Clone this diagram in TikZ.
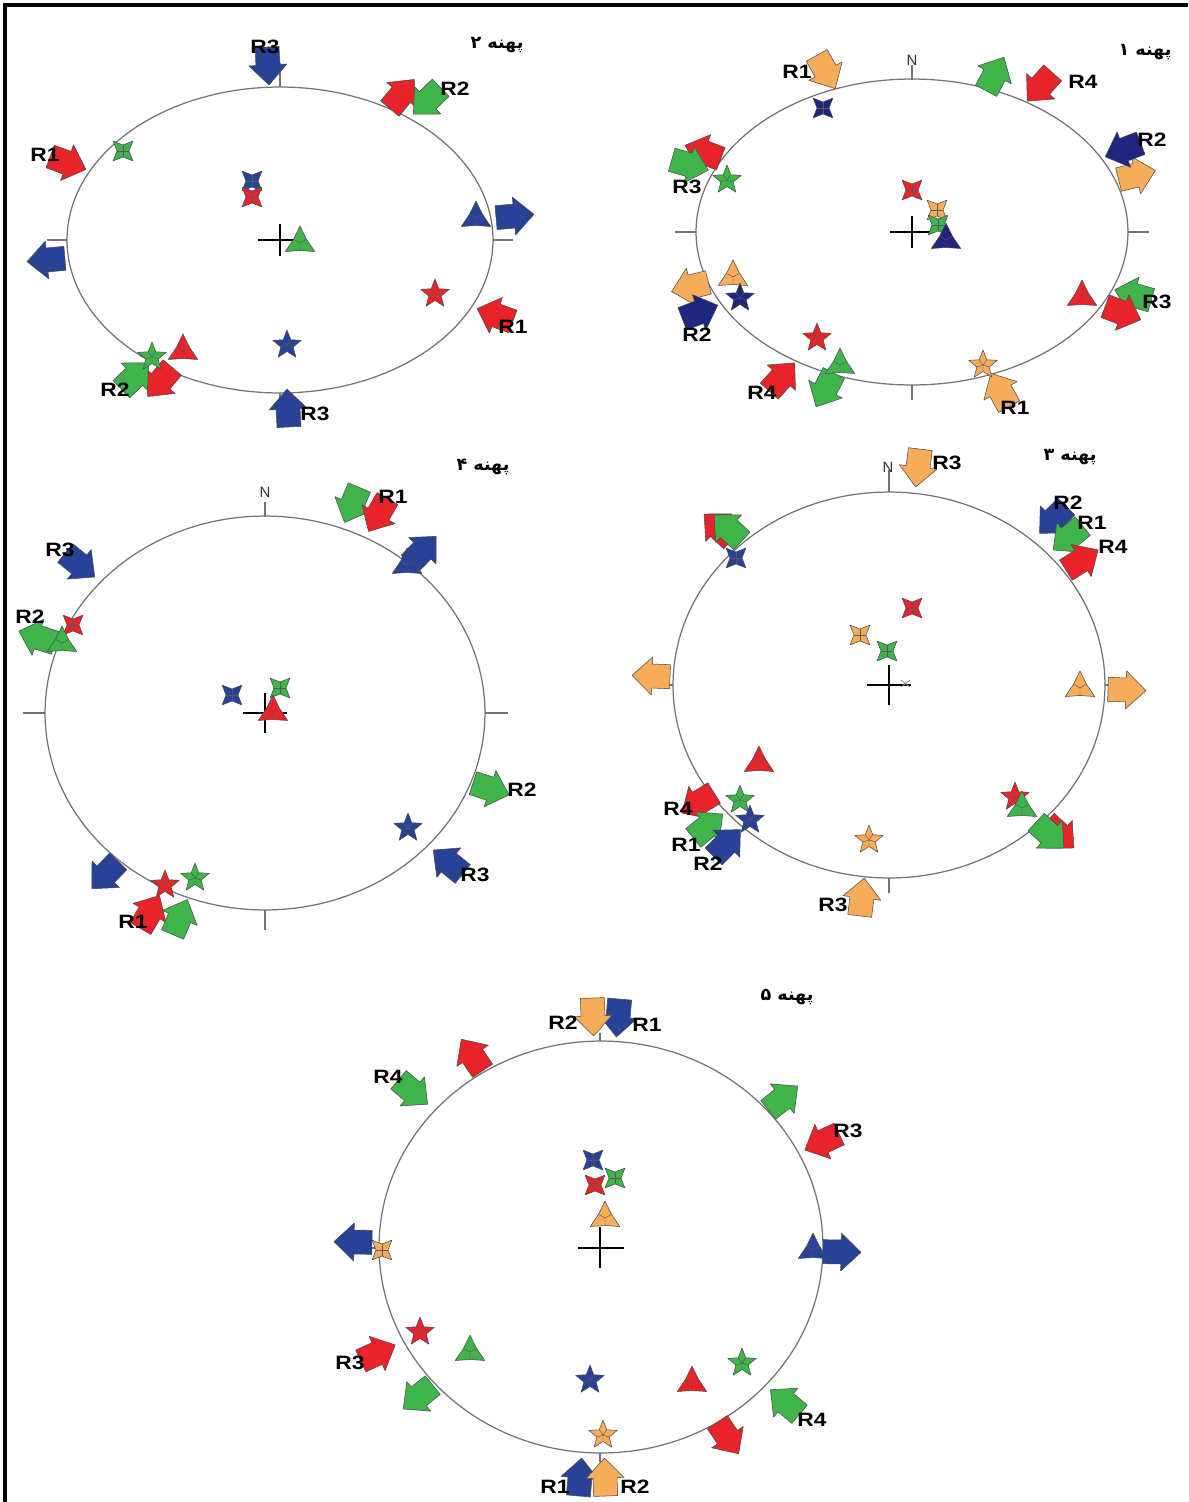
\documentclass[tikz,border=0pt]{standalone}
\usepackage{fontspec}
\setmainfont{Liberation Sans}
\newfontfamily\fafont[Script=Arabic]{DejaVu Sans}
\TeXXeTstate=1
\definecolor{cr}{RGB}{232,35,42}
\definecolor{cg}{RGB}{62,180,74}
\definecolor{cb}{RGB}{40,66,152}
\definecolor{cn}{RGB}{32,38,128}
\definecolor{co}{RGB}{247,172,90}
\tikzset{
  symb/.style={draw=black!70, line width=0.3pt, line join=round},
  inl/.style={draw=black!65, line width=0.25pt},
  circ/.style={draw=black!55, line width=0.7pt},
  crs/.style={draw=black, line width=0.9pt},
  lbl/.style={font=\bfseries\fontsize{11}{13}\selectfont, inner sep=0pt},
  nlab/.style={font=\fontsize{8.5}{10}\selectfont, inner sep=0pt, text=black!80},
  ttl/.style={font=\fontsize{10}{12}\selectfont\bfseries, inner sep=0pt},
  pics/harr/.style={code={\path[symb, fill=#1] (-19,-12) -- (-1,-12) -- (-1,-19) -- (19,0) -- (-1,19) -- (-1,12) -- (-19,12) -- cycle;}},
  pics/four/.style={code={\path[symb, fill=#1] (45:14) -- (0:6) -- (-45:14) -- (-90:6) -- (-135:14) -- (180:6) -- (135:14) -- (90:6) -- cycle;
     \path[inl] (0:6) -- (180:6) (90:6) -- (-90:6);}},
  pics/five/.style={code={\path[symb, fill=#1] (-90:15) -- (-54:6.5) -- (-18:15) -- (18:6.5) -- (54:15) -- (90:6.5) -- (126:15) -- (162:6.5) -- (198:15) -- (234:6.5) -- cycle;
     \path[inl] (0,0) -- (-54:6.5) (0,0) -- (18:6.5) (0,0) -- (90:6.5) (0,0) -- (162:6.5) (0,0) -- (234:6.5);}},
  pics/tri/.style={code={\path[symb, fill=#1] (-90:17) -- (-30:7.5) -- (30:17) -- (90:7.5) -- (150:17) -- (210:7.5) -- cycle;
     \path[inl] (0,0) -- (-30:7.5) (0,0) -- (90:7.5) (0,0) -- (210:7.5);}},
}
\newcommand\myarr[4]{\pic[rotate=#3] at (#1,#2) {harr=#4};}
\newcommand\myfour[3]{\pic at (#1,#2) {four=#3};}
\newcommand\myfive[3]{\pic at (#1,#2) {five=#3};}
\newcommand\mytri[3]{\pic at (#1,#2) {tri=#3};}
\newcommand\lb[1]{\scalebox{1.18}[1]{#1}}
\begin{document}
\begin{tikzpicture}[x=0.02cm, y=-0.02cm]
\useasboundingbox (0,0) rectangle (1188,1502);
\fill[white] (0,0) rectangle (1188,1502);
\draw[line width=1.8pt] (5,1502) -- (5,5) -- (1188,5);

% ---------------- plot 1 ----------------
\draw[circ] (912,232) ellipse [x radius=4.32cm, y radius=3.06cm];
\draw[circ] (912,65)--(912,80) (912,385)--(912,400) (675,232)--(696,232) (1128,232)--(1149,232);
\draw[crs] (890,232)--(934,232) (912,216)--(912,248);
\node[nlab] (n1) at (912,60) {N};
\node[ttl] (t1) at (1145,52) {\fafont\beginR پهنه ۱\endR};
\myarr{826}{72}{-61}{co}
\myarr{1000}{390}{119}{co}
\myarr{1137}{175}{14}{co}
\myarr{690}{287}{-166}{co}
\myarr{700}{312}{21}{cn}
\myarr{1123}{150}{-159}{cn}
\myarr{703}{152}{159}{cr}
\myarr{690}{165}{-16}{cg}
\myarr{995}{74}{62}{cg}
\myarr{1040}{87}{-132}{cr}
\myarr{1133}{295}{164}{cg}
\myarr{1123}{313}{-21}{cr}
\myarr{782}{377}{48}{cr}
\myarr{825}{390}{-118}{cg}
\myfour{823}{108}{cn}
\myfive{727}{180}{cg}
\mytri{733}{277}{co}
\myfive{740}{298}{cn}
\myfive{817}{338}{cr}
\mytri{840}{365}{cg}
\myfive{983}{365}{co}
\mytri{1082}{297}{cr}
\myfour{912}{190}{cr}
\myfour{937}{210}{co}
\myfour{938}{225}{cg}
\mytri{946}{240}{cn}
\node[lbl] (p1a) at (797,72) {\lb{R1}};
\node[lbl] (p1b) at (1083,82) {\lb{R4}};
\node[lbl] (p1c) at (1152,140) {\lb{R2}};
\node[lbl] (p1d) at (687,187) {\lb{R3}};
\node[lbl] (p1e) at (697,335) {\lb{R2}};
\node[lbl] (p1f) at (762,393) {\lb{R4}};
\node[lbl] (p1g) at (1015,408) {\lb{R1}};
\node[lbl] (p1h) at (1157,302) {\lb{R3}};

% ---------------- plot 2 ----------------
\draw[circ] (280,240) ellipse [x radius=4.26cm, y radius=3.06cm];
\draw[circ] (280,63)--(280,87) (280,393)--(280,406) (47,240)--(67,240) (493,240)--(513,240);
\draw[crs] (258,240)--(302,240) (280,224)--(280,256);
\node[ttl] (t2) at (497,45) {\fafont\beginR پهنه ۲\endR};
\myarr{268}{66}{-87}{cb}
\myarr{288}{408}{93}{cb}
\myarr{515}{216}{5}{cb}
\myarr{46}{260}{185}{cb}
\myarr{68}{163}{-20}{cr}
\myarr{495}{315}{160}{cr}
\myarr{402}{94}{50}{cr}
\myarr{427}{101}{-136}{cg}
\myarr{160}{382}{-130}{cr}
\myarr{135}{376}{44}{cg}
\myfour{123}{151}{cg}
\myfour{252}{181}{cb}
\myfour{252}{197}{cr}
\mytri{300}{243}{cg}
\mytri{476}{218}{cb}
\mytri{183}{351}{cr}
\myfive{435}{294}{cr}
\myfive{287}{345}{cb}
\myfive{152}{357}{cg}
\node[lbl] (p2a) at (265,47) {\lb{R3}};
\node[lbl] (p2b) at (455,89) {\lb{R2}};
\node[lbl] (p2c) at (45,155) {\lb{R1}};
\node[lbl] (p2d) at (513,327) {\lb{R1}};
\node[lbl] (p2e) at (115,390) {\lb{R2}};
\node[lbl] (p2f) at (315,414) {\lb{R3}};

% ---------------- plot 4 ----------------
\draw[circ] (265,713) ellipse [x radius=4.4cm, y radius=3.94cm];
\draw[circ] (265,502)--(265,517) (265,910)--(265,930) (23,713)--(45,713) (485,713)--(508,713);
\draw[crs] (243,713)--(287,713) (265,693)--(265,733);
\node[nlab] (n4) at (265,492) {N};
\node[ttl] (t4) at (483,467) {\fafont\beginR پهنه ۴\endR};
\myarr{352}{505}{-113}{cg}
\myarr{378}{515}{-120}{cr}
\myarr{150}{912}{60}{cr}
\myarr{180}{917}{67}{cg}
\myarr{423}{550}{46}{cb}
\myarr{105}{875}{-134}{cb}
\myarr{80}{565}{-39}{cb}
\myarr{448}{862}{141}{cb}
\myarr{37}{637}{162}{cg}
\myarr{491}{789}{-18}{cg}
\mytri{407}{565}{cb}
\myfour{73}{625}{cr}
\mytri{62}{643}{cg}
\myfour{232}{695}{cb}
\myfour{280}{688}{cg}
\mytri{273}{712}{cr}
\myfive{408}{828}{cb}
\myfive{165}{885}{cr}
\myfive{195}{878}{cg}
\node[lbl] (p4a) at (393,497) {\lb{R1}};
\node[lbl] (p4b) at (133,922) {\lb{R1}};
\node[lbl] (p4c) at (60,550) {\lb{R3}};
\node[lbl] (p4d) at (475,875) {\lb{R3}};
\node[lbl] (p4e) at (30,617) {\lb{R2}};
\node[lbl] (p4f) at (522,790) {\lb{R2}};

% ---------------- plot 3 ----------------
\draw[circ] (889,685) ellipse [x radius=4.32cm, y radius=3.86cm];
\draw[circ] (889,470)--(889,492) (889,878)--(889,893) (655,685)--(673,685) (1105,685)--(1120,685);
\draw[crs] (867,685)--(911,685) (889,665)--(889,705);
\draw[draw=black!50, line width=0.4pt] (901,680)--(910,687) (901,687)--(910,680);
\node[nlab] (n3) at (888,467) {N};
\node[ttl] (t3) at (1070,457) {\fafont\beginR پهنه ۳\endR};
\myarr{918}{468}{-97}{co}
\myarr{862}{897}{83}{co}
\myarr{651}{676}{178}{co}
\myarr{1127}{690}{-2}{co}
\myarr{1053}{520}{-135}{cb}
\myarr{1068}{538}{-141}{cg}
\myarr{1082}{560}{32}{cr}
\myarr{698}{803}{-148}{cr}
\myarr{708}{826}{39}{cg}
\myarr{727}{843}{45}{cb}
\myarr{718}{527}{137}{cr}
\myarr{728}{528}{137}{cg}
\myarr{1060}{835}{-43}{cr}
\myarr{1050}{835}{-43}{cg}
\myfour{736}{558}{cb}
\myfour{912}{608}{cr}
\myfour{860}{635}{co}
\myfour{887}{651}{cg}
\mytri{1080}{688}{co}
\mytri{759}{763}{cr}
\myfive{1015}{797}{cr}
\mytri{1022}{808}{cg}
\myfive{740}{800}{cg}
\myfive{750}{820}{cb}
\myfive{869}{840}{co}
\node[lbl] (p3a) at (947,463) {\lb{R3}};
\node[lbl] (p3b) at (833,905) {\lb{R3}};
\node[lbl] (p3c) at (1068,503) {\lb{R2}};
\node[lbl] (p3d) at (1092,523) {\lb{R1}};
\node[lbl] (p3e) at (1113,547) {\lb{R4}};
\node[lbl] (p3f) at (678,809) {\lb{R4}};
\node[lbl] (p3g) at (686,845) {\lb{R1}};
\node[lbl] (p3h) at (708,864) {\lb{R2}};

% ---------------- plot 5 ----------------
\draw[circ] (601,1247) ellipse [x radius=4.44cm, y radius=4.12cm];
\draw[circ] (600,1033)--(600,1041) (600,1453)--(600,1462) (360,1248)--(379,1248) (823,1248)--(842,1248);
\draw[crs] (578,1248)--(624,1248) (600,1227)--(600,1268);
\node[ttl] (t5) at (787,997) {\fafont\beginR پهنه ۵\endR};
\myarr{618}{1018}{-95}{cb}
\myarr{593}{1017}{-88}{co}
\myarr{580}{1477}{85}{cb}
\myarr{605}{1477}{92}{co}
\myarr{472}{1055}{124}{cr}
\myarr{728}{1438}{-56}{cr}
\myarr{413}{1092}{-40}{cg}
\myarr{785}{1402}{140}{cg}
\myarr{783}{1098}{39}{cg}
\myarr{418}{1397}{-141}{cg}
\myarr{822}{1142}{-155}{cr}
\myarr{378}{1353}{25}{cr}
\myarr{353}{1242}{179}{cb}
\mytri{813}{1250}{cb}
\myarr{842}{1252}{-1}{cb}
\myfour{593}{1160}{cb}
\myfour{615}{1178}{cg}
\myfour{595}{1185}{cr}
\mytri{605}{1218}{co}
\myfour{382}{1250}{co}
\myfive{420}{1332}{cr}
\mytri{470}{1352}{cg}
\myfive{590}{1380}{cb}
\mytri{692}{1383}{cr}
\myfive{742}{1363}{cg}
\myfive{603}{1435}{co}
\node[lbl] (p5a) at (563,1023) {\lb{R2}};
\node[lbl] (p5b) at (647,1025) {\lb{R1}};
\node[lbl] (p5c) at (555,1487) {\lb{R1}};
\node[lbl] (p5d) at (635,1487) {\lb{R2}};
\node[lbl] (p5e) at (388,1077) {\lb{R4}};
\node[lbl] (p5f) at (812,1420) {\lb{R4}};
\node[lbl] (p5g) at (848,1131) {\lb{R3}};
\node[lbl] (p5h) at (350,1363) {\lb{R3}};
\end{tikzpicture}
\end{document}
